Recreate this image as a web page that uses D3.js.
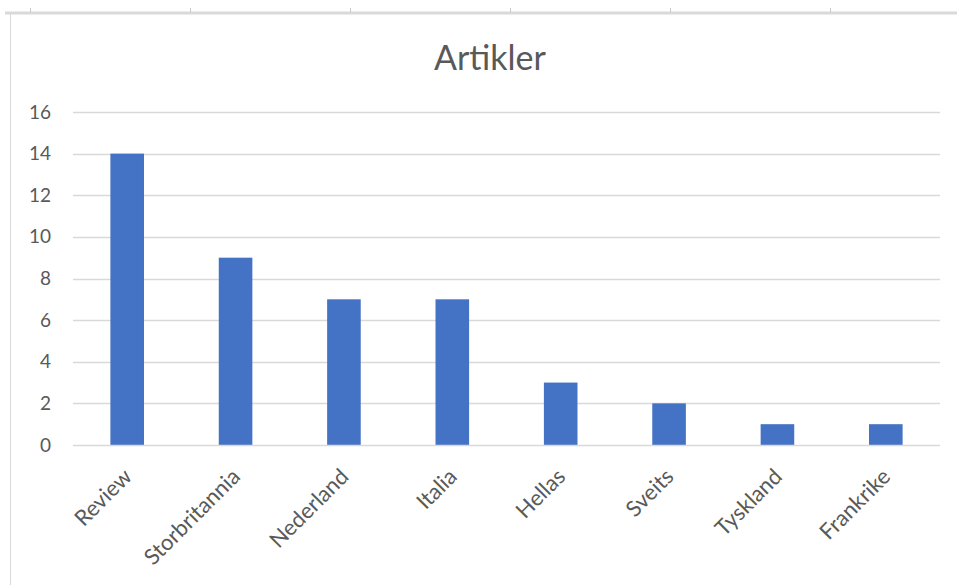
<!DOCTYPE html>
<html>
<head>
<meta charset="utf-8">
<script src="https://cdn.jsdelivr.net/npm/d3@7"></script>
<style>
  html, body { margin: 0; padding: 0; background: #fff; }
  svg { display: block; }
</style>
</head>
<body>
<svg id="chart" width="957" height="585"></svg>
<script>
// Articles per country
const categories = ["Review", "Storbritannia", "Nederland", "Italia", "Hellas", "Sveits", "Tyskland", "Frankrike"];
const values = [14, 9, 7, 7, 3, 2, 1, 1];
const yTicks = [0, 2, 4, 6, 8, 10, 12, 14, 16];
const title = "Artikler";

const W = 957, H = 585;
const svg = d3.select("#chart");
const font = "Lato, 'Open Sans', sans-serif";
const textColor = "#595959";

// sheet frame around the chart
const frame = svg.append("g");
frame.append("line").attr("x1", 5).attr("x2", W).attr("y1", 13).attr("y2", 13)
  .attr("stroke", "#d9d9d9").attr("stroke-width", 3);
frame.append("line").attr("x1", 10.5).attr("x2", 10.5).attr("y1", 13).attr("y2", H)
  .attr("stroke", "#d9d9d9").attr("stroke-width", 1);
[30, 190, 350, 510, 670, 830].forEach(x => {
  frame.append("line").attr("x1", x + 0.5).attr("x2", x + 0.5).attr("y1", 8).attr("y2", 12)
    .attr("stroke", "#c8c8c8").attr("stroke-width", 1);
});

const plot = { left: 73, right: 940, top: 112, bottom: 445 };

const x = d3.scaleBand().domain(categories).range([plot.left, plot.right]).paddingInner(0.69).paddingOuter(0.345);
const y = d3.scaleLinear().domain([0, 16]).range([plot.bottom, plot.top]);

// horizontal gridlines
svg.append("g").selectAll("line").data(yTicks.filter(d => d > 0)).join("line")
  .attr("x1", plot.left).attr("x2", plot.right)
  .attr("y1", d => Math.round(y(d)) + 0.5).attr("y2", d => Math.round(y(d)) + 0.5)
  .attr("stroke", "#d9d9d9").attr("stroke-width", 1.5);

// y axis labels
const yAxis = d3.axisLeft(y).tickValues(yTicks).tickSize(0).tickPadding(0);
const gy = svg.append("g").attr("transform", `translate(51,0)`).call(yAxis);
gy.select(".domain").remove();
gy.selectAll("text").attr("font-family", font).attr("font-size", 19).attr("fill", textColor);

// bars
svg.append("g").selectAll("rect").data(values).join("rect")
  .attr("x", (d, i) => x(categories[i]))
  .attr("width", x.bandwidth())
  .attr("y", d => y(d))
  .attr("height", d => y(0) - y(d))
  .attr("fill", "#4472c4");

// baseline
svg.append("line").attr("x1", plot.left).attr("x2", plot.right)
  .attr("y1", y(0) + 0.5).attr("y2", y(0) + 0.5)
  .attr("stroke", "#d9d9d9").attr("stroke-width", 1.5);

// x axis labels, rotated
const xAxis = d3.axisBottom(x).tickSize(0).tickPadding(0);
const gx = svg.append("g").attr("transform", `translate(0,${plot.bottom})`).call(xAxis);
gx.select(".domain").remove();
gx.selectAll("text")
  .attr("font-family", font).attr("font-size", 22).attr("fill", textColor)
  .attr("text-anchor", "end")
  .attr("dy", 0)
  .attr("transform", "translate(6,33) rotate(-45)");

// title
svg.append("text").attr("x", 490).attr("y", 70).attr("text-anchor", "middle")
  .attr("font-family", font).attr("font-size", 34).attr("fill", textColor)
  .text(title);
</script>
</body>
</html>
